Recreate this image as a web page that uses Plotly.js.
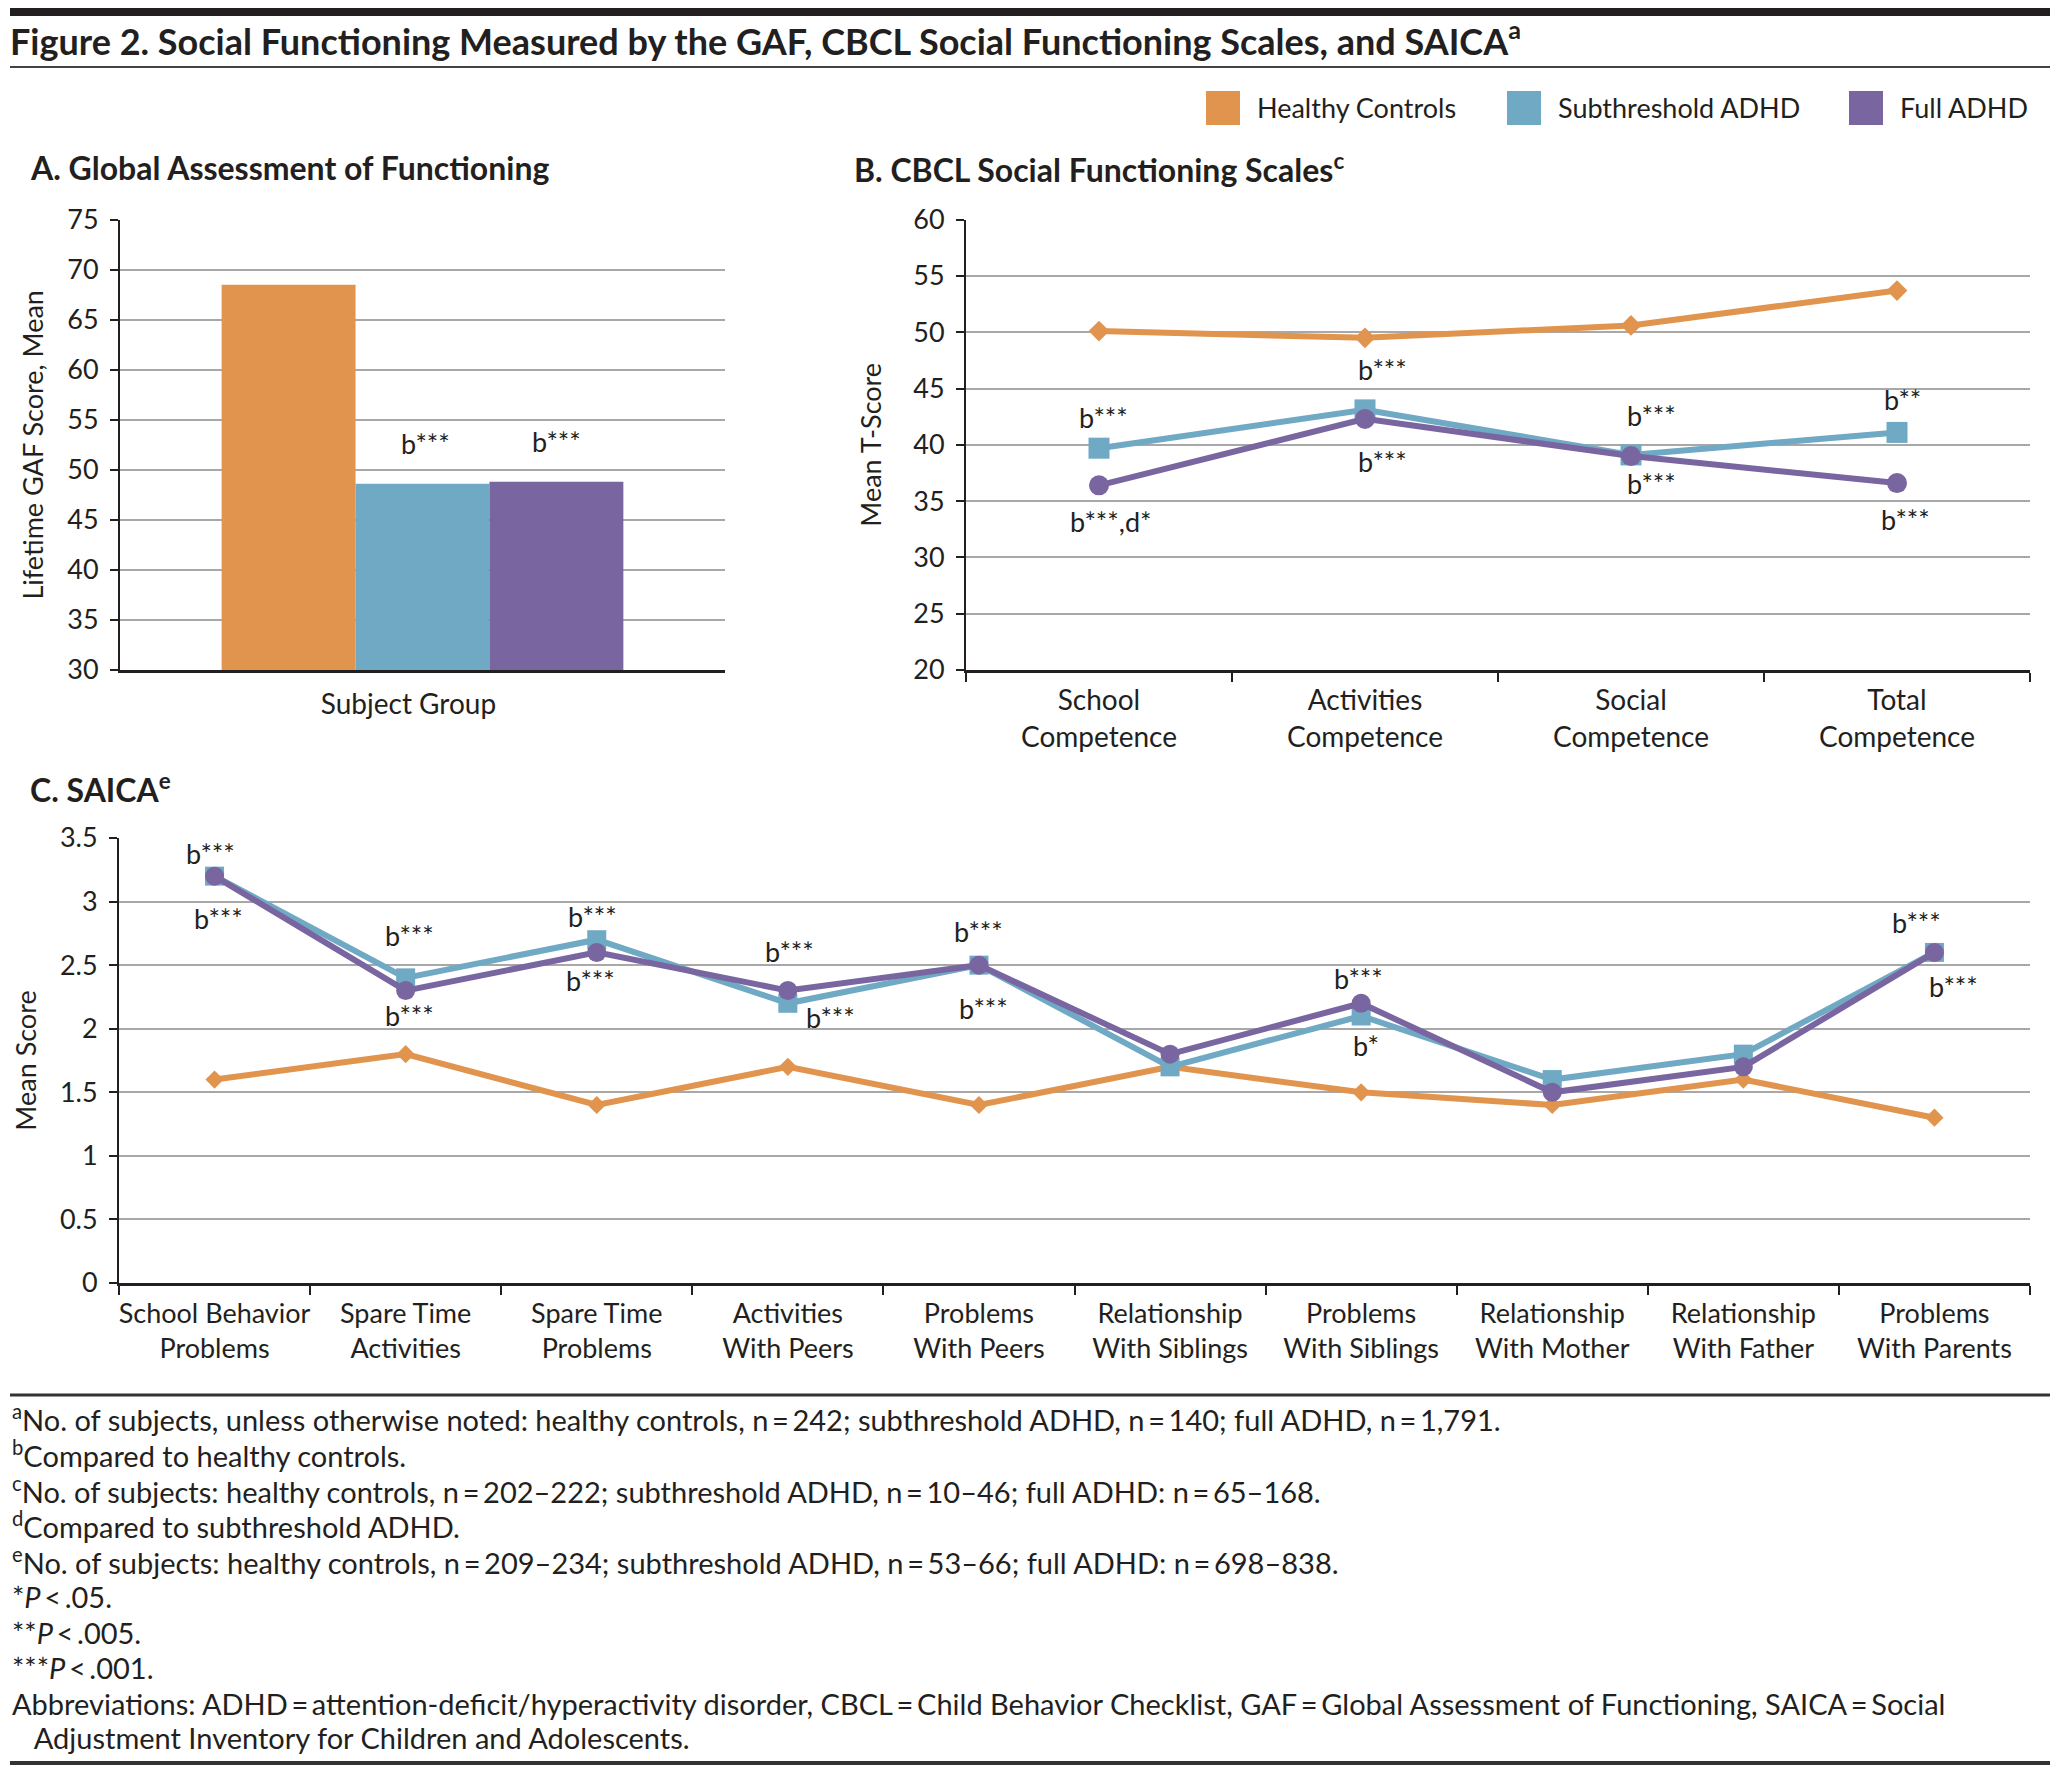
<!DOCTYPE html>
<html>
<head>
<meta charset="utf-8">
<script src="https://cdn.plot.ly/plotly-3.0.1.min.js"></script>
<style>html,body{margin:0;padding:0;background:#fff;}</style>
</head>
<body>
<div id="chart" style="width:2059px;height:1773px;"></div>
<script>
// ---------- DATA ----------
const groups = ['Healthy Controls', 'Subthreshold ADHD', 'Full ADHD'];

const gafCategory = ['Subject Group'];
const gafMeans = [68.5, 48.6, 48.8]; // healthy, subthreshold, full

const cbclCategories = ['School<br>Competence', 'Activities<br>Competence', 'Social<br>Competence', 'Total<br>Competence'];
const cbclHealthy = [50.1, 49.5, 50.6, 53.7];
const cbclSub = [39.7, 43.1, 39.1, 41.1];
const cbclFull = [36.4, 42.3, 39.0, 36.6];

const saicaCategories = ['School Behavior<br>Problems', 'Spare Time<br>Activities', 'Spare Time<br>Problems', 'Activities<br>With Peers', 'Problems<br>With Peers', 'Relationship<br>With Siblings', 'Problems<br>With Siblings', 'Relationship<br>With Mother', 'Relationship<br>With Father', 'Problems<br>With Parents'];
const saicaHealthy = [1.6, 1.8, 1.4, 1.7, 1.4, 1.7, 1.5, 1.4, 1.6, 1.3];
const saicaSub = [3.2, 2.4, 2.7, 2.2, 2.5, 1.7, 2.1, 1.6, 1.8, 2.6];
const saicaFull = [3.2, 2.3, 2.6, 2.3, 2.5, 1.8, 2.2, 1.5, 1.7, 2.6];

const footnotes = [
  '<sup>a</sup>No. of subjects, unless otherwise noted: healthy controls, n\u2009=\u2009242; subthreshold ADHD, n\u2009=\u2009140; full ADHD, n\u2009=\u20091,791.',
  '<sup>b</sup>Compared to healthy controls.',
  '<sup>c</sup>No. of subjects: healthy controls, n\u2009=\u2009202\u2013222; subthreshold ADHD, n\u2009=\u200910\u201346; full ADHD: n\u2009=\u200965\u2013168.',
  '<sup>d</sup>Compared to subthreshold ADHD.',
  '<sup>e</sup>No. of subjects: healthy controls, n\u2009=\u2009209\u2013234; subthreshold ADHD, n\u2009=\u200953\u201366; full ADHD: n\u2009=\u2009698\u2013838.',
  '*<i>P</i>\u2009&lt;\u2009.05.',
  '**<i>P</i>\u2009&lt;\u2009.005.',
  '***<i>P</i>\u2009&lt;\u2009.001.',
  'Abbreviations: ADHD\u2009=\u2009attention-deficit/hyperactivity disorder, CBCL\u2009=\u2009Child Behavior Checklist, GAF\u2009=\u2009Global Assessment of Functioning, SAICA\u2009=\u2009Social',
  '\u2003Adjustment Inventory for Children and Adolescents.'
];

// ---------- STYLE ----------
const W = 2059, H = 1773;
const colors = ['#E0944E', '#6FA9C4', '#7965A0'];
const ink = '#231f20';
const grid = '#a8a8a8';
const FONT = 'Lato, "Open Sans", "Noto Sans", sans-serif';
const px = v => v / W;           // x pixel -> paper
const py = v => 1 - v / H;       // y pixel (from top) -> paper

// ---------- TRACES ----------
const traces = [];
groups.forEach((g, i) => {
  traces.push({
    type: 'bar', name: g, x: gafCategory, y: [gafMeans[i]],
    xaxis: 'x', yaxis: 'y', marker: {color: colors[i], line: {width: 0}},
    showlegend: false, hoverinfo: 'name+y'
  });
});

const cbclSeries = [cbclHealthy, cbclSub, cbclFull];
const saicaSeries = [saicaHealthy, saicaSub, saicaFull];
const symbolsB = [{symbol: 'diamond', size: 16}, {symbol: 'square', size: 21}, {symbol: 'circle', size: 20}];
const symbolsC = [{symbol: 'diamond', size: 14}, {symbol: 'square', size: 19}, {symbol: 'circle', size: 19}];

groups.forEach((g, i) => {
  traces.push({
    type: 'scatter', mode: 'lines+markers', name: g,
    x: cbclCategories, y: cbclSeries[i], xaxis: 'x2', yaxis: 'y2',
    line: {color: colors[i], width: 6},
    marker: {color: colors[i], symbol: symbolsB[i].symbol, size: symbolsB[i].size, line: {width: 0}},
    showlegend: false
  });
});
groups.forEach((g, i) => {
  traces.push({
    type: 'scatter', mode: 'lines+markers', name: g,
    x: saicaCategories, y: saicaSeries[i], xaxis: 'x3', yaxis: 'y3',
    line: {color: colors[i], width: 6},
    marker: {color: colors[i], symbol: symbolsC[i].symbol, size: symbolsC[i].size, line: {width: 0}},
    showlegend: false
  });
});

// ---------- SIGNIFICANCE LABELS ----------
// series: 0 healthy, 1 subthreshold, 2 full; dx/dy = pixel offsets from the data point
const sigA = [
  {series: 1, text: 'b***', dx: 3, dy: 40},
  {series: 2, text: 'b***', dx: 134, dy: 40}
];
const sigB = [
  {i: 0, series: 1, text: 'b***', dx: 4, dy: 31},
  {i: 0, series: 2, text: 'b***,d*', dx: 12, dy: -36},
  {i: 1, series: 1, text: 'b***', dx: 17, dy: 40},
  {i: 1, series: 2, text: 'b***', dx: 17, dy: -43},
  {i: 2, series: 1, text: 'b***', dx: 20, dy: 39},
  {i: 2, series: 2, text: 'b***', dx: 20, dy: -27},
  {i: 3, series: 1, text: 'b**', dx: 5, dy: 33},
  {i: 3, series: 2, text: 'b***', dx: 8, dy: -36}
];
const sigC = [
  {i: 0, series: 1, text: 'b***', dx: -4, dy: 23},
  {i: 0, series: 2, text: 'b***', dx: 4, dy: -42},
  {i: 1, series: 1, text: 'b***', dx: 4, dy: 42},
  {i: 1, series: 2, text: 'b***', dx: 4, dy: -25},
  {i: 2, series: 1, text: 'b***', dx: -4, dy: 23},
  {i: 2, series: 2, text: 'b***', dx: -6, dy: -28},
  {i: 3, series: 2, text: 'b***', dx: 2, dy: 39},
  {i: 3, series: 1, text: 'b***', dx: 43, dy: -14},
  {i: 4, series: 1, text: 'b***', dx: 0, dy: 34},
  {i: 4, series: 2, text: 'b***', dx: 5, dy: -43},
  {i: 6, series: 2, text: 'b***', dx: -3, dy: 25},
  {i: 6, series: 1, text: 'b*', dx: 5, dy: -29},
  {i: 9, series: 1, text: 'b***', dx: -18, dy: 30},
  {i: 9, series: 2, text: 'b***', dx: 19, dy: -34}
];

const annFont = {family: FONT, size: 27, color: ink};
const annotations = [];
sigA.forEach(s => annotations.push({
  xref: 'x', yref: 'y', x: gafCategory[0], y: gafMeans[s.series], text: s.text,
  showarrow: false, xshift: s.dx, yshift: s.dy, font: annFont
}));
sigB.forEach(s => annotations.push({
  xref: 'x2', yref: 'y2', x: cbclCategories[s.i], y: cbclSeries[s.series][s.i], text: s.text,
  showarrow: false, xshift: s.dx, yshift: s.dy, font: annFont
}));
sigC.forEach(s => annotations.push({
  xref: 'x3', yref: 'y3', x: saicaCategories[s.i], y: saicaSeries[s.series][s.i], text: s.text,
  showarrow: false, xshift: s.dx, yshift: s.dy, font: annFont
}));

// panel titles
const panelFont = {family: FONT, size: 32, color: ink, weight: 700};
[
  {t: 'A. Global Assessment of Functioning', x: 28, y: 168},
  {t: 'B. CBCL Social Functioning Scales<sup>c</sup>', x: 852, y: 168},
  {t: 'C. SAICA<sup>e</sup>', x: 28, y: 788}
].forEach(p => annotations.push({
  xref: 'paper', yref: 'paper', x: px(p.x), y: py(p.y), xanchor: 'left', yanchor: 'middle',
  text: p.t, showarrow: false, font: panelFont
}));

// legend (text)
const legendX = [1206, 1507, 1849];
groups.forEach((g, i) => annotations.push({
  xref: 'paper', yref: 'paper', x: px(legendX[i] + 49), y: py(108), xanchor: 'left', yanchor: 'middle',
  text: g, showarrow: false, font: {family: FONT, size: 27, color: ink}
}));

// footnotes
const footY = [1418, 1454, 1490, 1525, 1561, 1596, 1632, 1667, 1703, 1737];
footnotes.forEach((f, i) => annotations.push({
  xref: 'paper', yref: 'paper', x: px(10), y: py(footY[i]), xanchor: 'left', yanchor: 'middle',
  text: f, showarrow: false, align: 'left', font: {family: FONT, size: 29, color: ink}
}));

// ---------- SHAPES ----------
const shapes = [
  {type: 'rect', xref: 'paper', yref: 'paper', x0: px(10), x1: px(2050), y0: py(16), y1: py(8), fillcolor: ink, line: {width: 0}},
  {type: 'line', xref: 'paper', yref: 'paper', x0: px(10), x1: px(2050), y0: py(67), y1: py(67), line: {color: '#444', width: 2}},
  {type: 'line', xref: 'paper', yref: 'paper', x0: px(10), x1: px(2050), y0: py(1395), y1: py(1395), line: {color: '#333', width: 3}},
  {type: 'line', xref: 'paper', yref: 'paper', x0: px(10), x1: px(2050), y0: py(1763), y1: py(1763), line: {color: '#333', width: 4}}
];
legendX.forEach((lx, i) => shapes.push({
  type: 'rect', xref: 'paper', yref: 'paper', x0: px(lx), x1: px(lx + 34), y0: py(125), y1: py(91),
  fillcolor: colors[i], line: {width: 0}
}));

// ---------- AXES ----------
const yTickFont = {family: FONT, size: 27, color: ink};
const xTickFont = {family: FONT, size: 28, color: ink};
const yBase = {
  showgrid: true, gridcolor: grid, gridwidth: 2, zeroline: false,
  showline: true, linecolor: ink, linewidth: 2,
  ticks: 'outside', ticklen: 8, tickwidth: 2, tickcolor: ink,
  tickfont: yTickFont, fixedrange: true, ticklabelstandoff: 6
};
const yTitleFont = {family: FONT, size: 27, color: ink};

const layout = {
  width: W, height: H,
  margin: {l: 0, r: 0, t: 0, b: 0, autoexpand: false},
  paper_bgcolor: '#fff', plot_bgcolor: 'rgba(0,0,0,0)',
  font: {family: FONT, color: ink},
  title: {
    text: 'Figure 2. Social Functioning Measured by the GAF, CBCL Social Functioning Scales, and SAICA<sup>a</sup>',
    x: px(10), xanchor: 'left', xref: 'paper', y: py(42), yanchor: 'middle', yref: 'container',
    font: {family: FONT, size: 36, color: ink, weight: 700}
  },
  showlegend: false,
  barmode: 'group', bargap: 0.336, bargroupgap: 0,
  xaxis: {
    domain: [px(120), px(725)], anchor: 'y', type: 'category', range: [-0.5, 0.5],
    showline: true, linecolor: ink, linewidth: 2.5, ticks: '', showgrid: false,
    tickfont: xTickFont, tickangle: 0, fixedrange: true, ticklabelstandoff: 8, ticklabelshift: -14
  },
  yaxis: Object.assign({}, yBase, {
    domain: [py(670), py(219.6)], anchor: 'x', range: [30, 75], dtick: 5, tick0: 30,
    title: {text: 'Lifetime GAF Score, Mean', font: yTitleFont, standoff: 16}
  }),
  xaxis2: {
    domain: [px(966), px(2030)], anchor: 'y2', type: 'category', range: [-0.5, 3.5],
    showline: true, linecolor: ink, linewidth: 2.5, ticks: 'outside', tickson: 'boundaries',
    ticklen: 9, tickwidth: 2, tickcolor: ink, showgrid: false,
    tickfont: xTickFont, tickangle: 0, fixedrange: true, ticklabelstandoff: 4
  },
  yaxis2: Object.assign({}, yBase, {
    domain: [py(670), py(219.6)], anchor: 'x2', range: [20, 60], dtick: 5, tick0: 20,
    title: {text: 'Mean T-Score', font: yTitleFont, standoff: 24}
  }),
  xaxis3: {
    domain: [px(119), px(2030)], anchor: 'y3', type: 'category', range: [-0.5, 9.5],
    showline: true, linecolor: ink, linewidth: 2.5, ticks: 'outside', tickson: 'boundaries',
    ticklen: 9, tickwidth: 2, tickcolor: ink, showgrid: false,
    tickfont: {family: FONT, size: 27, color: ink}, tickangle: 0, fixedrange: true, ticklabelstandoff: 5
  },
  yaxis3: Object.assign({}, yBase, {
    domain: [py(1283), py(838)], anchor: 'x3', range: [0, 3.5], dtick: 0.5, tick0: 0,
    title: {text: 'Mean Score', font: yTitleFont, standoff: 15}
  }),
  annotations: annotations,
  shapes: shapes
};

Plotly.newPlot('chart', traces, layout, {displayModeBar: false, staticPlot: true});
</script>
</body>
</html>
